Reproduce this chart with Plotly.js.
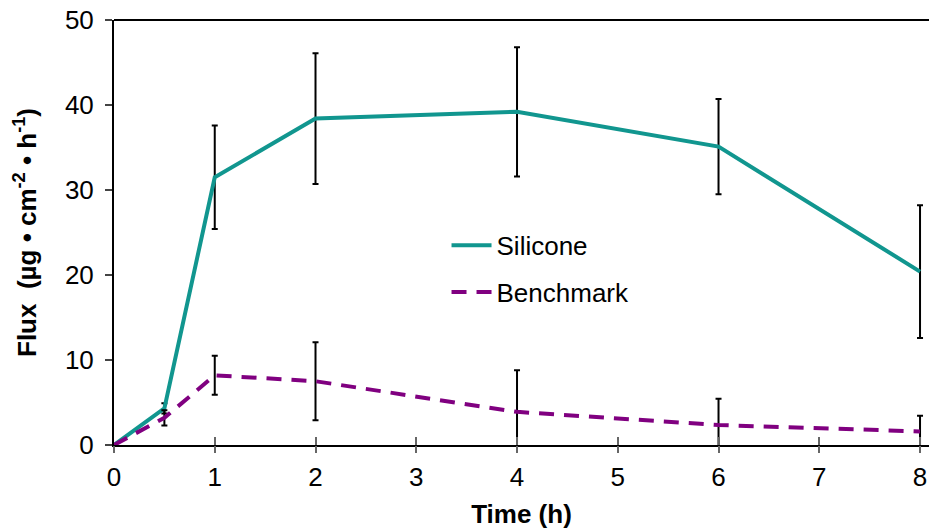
<!DOCTYPE html>
<html>
<head>
<meta charset="utf-8">
<script src="https://cdn.plot.ly/plotly-3.0.1.min.js"></script>
<style>html,body{margin:0;padding:0;background:#fff;}#chart{width:929px;height:529px;}</style>
</head>
<body>
<div id="chart"></div>
<script>
const timeH = [0, 0.5, 1, 2, 4, 6, 8];
const siliconeFlux = [0, 4.3, 31.5, 38.4, 39.2, 35.1, 20.4];
const siliconeErr = [0, 0.6, 6.1, 7.7, 7.6, 5.6, 7.8];
const benchmarkFlux = [0, 3.2, 8.2, 7.5, 3.9, 2.35, 1.6];
const benchmarkErr = [0, 0.9, 2.3, 4.6, 4.9, 3.1, 1.85];
const xTicks = [0, 1, 2, 3, 4, 5, 6, 7, 8];
const yTicks = [0, 10, 20, 30, 40, 50];

const font = {family: 'Liberation Sans, Arial, sans-serif', size: 26, color: '#000'};
const titleFont = {family: 'Liberation Sans, Arial, sans-serif', size: 26, color: '#000'};

const traces = [
  {
    x: timeH, y: siliconeFlux, name: 'Silicone', type: 'scatter', mode: 'lines',
    legendgroup: 'a',
    line: {color: '#11968F', width: 4},
    error_y: {type: 'data', array: siliconeErr, visible: true, color: '#000', thickness: 2, width: 3}
  },
  {
    x: timeH, y: benchmarkFlux, name: 'Benchmark', type: 'scatter', mode: 'lines',
    legendgroup: 'b',
    line: {color: '#800080', width: 4, dash: '15px,10px'},
    error_y: {type: 'data', array: benchmarkErr, visible: true, color: '#000', thickness: 2, width: 3}
  },
  {
    x: [0], y: [0], xaxis: 'x2', yaxis: 'y', mode: 'none', type: 'scatter',
    showlegend: false, hoverinfo: 'skip'
  }
];

const layout = {
  width: 929, height: 529,
  margin: {l: 114, r: 0, t: 20, b: 84},
  paper_bgcolor: '#fff', plot_bgcolor: '#fff',
  font: font,
  showlegend: true,
  legend: {
    x: 0.408, y: 0.525, xanchor: 'left', yanchor: 'top',
    bgcolor: 'rgba(0,0,0,0)', font: font, tracegroupgap: 10, itemwidth: 40
  },
  xaxis: {
    range: [0, 8.089], tickvals: xTicks, ticktext: xTicks.map(String),
    showline: true, linecolor: '#000', linewidth: 2,
    ticks: 'inside', ticklen: 8, tickcolor: '#666', tickwidth: 2,
    ticklabelstandoff: 8,
    showgrid: false, zeroline: false, tickfont: font,
    title: {text: '<b>Time (h)</b>', font: titleFont, standoff: 14}
  },
  xaxis2: {
    overlaying: 'x', matches: 'x', range: [0, 8.089], tickvals: xTicks,
    showticklabels: false, ticks: 'outside', ticklen: 7, tickcolor: '#666', tickwidth: 2,
    showgrid: false, zeroline: false, showline: false
  },
  yaxis: {
    range: [0, 50], tickvals: yTicks, ticktext: yTicks.map(String),
    showline: true, linecolor: '#000', linewidth: 2,
    ticks: 'outside', ticklen: 7, tickcolor: '#444', tickwidth: 2,
    ticklabelstandoff: 6,
    showgrid: false, zeroline: false, tickfont: font,
    title: {text: '<b>Flux  (µg • cm<sup>-2</sup> • h<sup>-1</sup>)</b>', font: titleFont, standoff: 21}
  },
  shapes: [
    {type: 'line', xref: 'paper', yref: 'paper', x0: 0, x1: 1, y0: 1, y1: 1,
     line: {color: '#000', width: 2}}
  ]
};

Plotly.newPlot('chart', traces, layout, {displayModeBar: false, staticPlot: true});
</script>
</body>
</html>
